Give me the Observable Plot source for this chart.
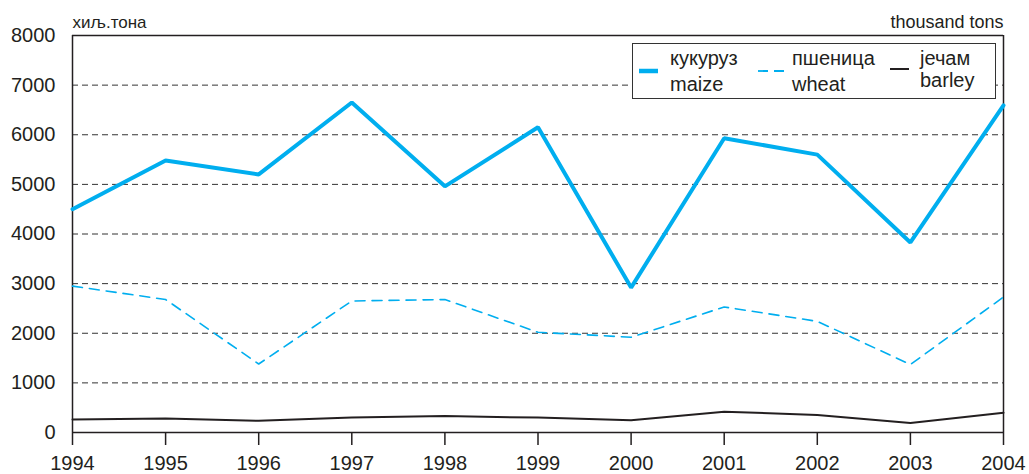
<!DOCTYPE html>
<html>
<head>
<meta charset="utf-8">
<script src="https://cdn.jsdelivr.net/npm/d3@7"></script>
<script src="https://cdn.jsdelivr.net/npm/@observablehq/plot@0.6"></script>
<style>
  body { margin: 0; background: #fff; font-family: "Liberation Sans", Arial, Helvetica, sans-serif; }
  #wrap { position: relative; width: 1029px; height: 474px; }
  #legend { position: absolute; left: 632px; top: 43px; width: 362px; height: 54px;
            border: 1.5px solid #333; background: #fff; color: #231f20; font-size: 20px; }
  .lbl { position: absolute; white-space: nowrap; line-height: 1; }
  .sw { position: absolute; }
</style>
</head>
<body>
<div id="wrap"></div>
<script>
const years = [1994, 1995, 1996, 1997, 1998, 1999, 2000, 2001, 2002, 2003, 2004];
const maize  = [4500, 5480, 5200, 6650, 4960, 6150, 2920, 5930, 5600, 3830, 6590];
const wheat  = [2950, 2680, 1380, 2650, 2680, 2020, 1920, 2530, 2240, 1370, 2730];
const barley = [260, 280, 235, 300, 330, 300, 245, 420, 355, 190, 400];
const yTicks = [0, 1000, 2000, 3000, 4000, 5000, 6000, 7000, 8000];
const gridTicks = [1000, 2000, 3000, 4000, 5000, 6000, 7000];
const seriesNames = [
  {sr: "кукуруз", en: "maize"},
  {sr: "пшеница", en: "wheat"},
  {sr: "јечам", en: "barley"}
];
const unitLeft = "хиљ.тона";
const unitRight = "thousand tons";

const BLUE = "#00aeef";
const DARK = "#231f20";

const toRows = (vals) => years.map((y, i) => ({year: y, value: vals[i]}));

const chart = Plot.plot({
  width: 1029,
  height: 474,
  marginLeft: 72,
  marginRight: 26,
  marginTop: 35,
  marginBottom: 42,
  style: {fontFamily: "Liberation Sans, Arial, Helvetica, sans-serif", fontSize: "20px", color: DARK, background: "#fff", overflow: "visible"},
  x: {domain: [1994, 2004]},
  y: {domain: [0, 8000]},
  marks: [
    Plot.gridY(gridTicks, {stroke: "#333", strokeOpacity: 1, strokeWidth: 1, strokeDasharray: "6,4"}),
    Plot.ruleY([0, 8000], {stroke: DARK, strokeWidth: 1.5}),
    Plot.ruleX([1994, 2004], {stroke: DARK, strokeWidth: 1.5}),
    Plot.lineY(toRows(barley), {x: "year", y: "value", stroke: DARK, strokeWidth: 2}),
    Plot.lineY(toRows(wheat), {x: "year", y: "value", stroke: BLUE, strokeWidth: 1.6, strokeDasharray: "10,7"}),
    Plot.lineY(toRows(maize), {x: "year", y: "value", stroke: BLUE, strokeWidth: 4, strokeLinejoin: "miter"}),
    Plot.axisX({ticks: years, tickFormat: d => String(d), tickSize: 13, tickPadding: 10, stroke: DARK, strokeWidth: 1.5, fontSize: 20, label: null}),
    Plot.axisY({ticks: yTicks, tickFormat: d => String(d), tickSize: 0, tickPadding: 17, fontSize: 20, label: null}),
    Plot.text([unitLeft], {frameAnchor: "top-left", textAnchor: "start", lineAnchor: "bottom", dy: -8, fontSize: 17, fill: DARK}),
    Plot.text([unitRight], {frameAnchor: "top-right", textAnchor: "end", lineAnchor: "bottom", dy: -8, fontSize: 18, fill: DARK})
  ]
});

const wrap = document.getElementById("wrap");
wrap.appendChild(chart);

// legend (HTML overlay)
const legend = document.createElement("div");
legend.id = "legend";
const layout = [
  {swX: 6, txtX: 37, sw: `<svg width="20" height="6"><line x1="0" x2="19" y1="3" y2="3" stroke="${BLUE}" stroke-width="4.5"/></svg>`},
  {swX: 125, txtX: 159, sw: `<svg width="32" height="6"><line x1="0" x2="31" y1="3" y2="3" stroke="${BLUE}" stroke-width="1.8" stroke-dasharray="10,6"/></svg>`},
  {swX: 257, txtX: 287, sw: `<svg width="20" height="6"><line x1="0" x2="19" y1="3" y2="3" stroke="${DARK}" stroke-width="2"/></svg>`}
];
seriesNames.forEach((s, i) => {
  const L = layout[i];
  const sw = document.createElement("div");
  sw.className = "sw";
  sw.style.left = L.swX + "px";
  sw.style.top = (i === 2 ? 10 : 12) + "px";
  sw.innerHTML = L.sw;
  legend.appendChild(sw);
  const t1 = document.createElement("div");
  t1.className = "lbl";
  t1.style.left = L.txtX + "px";
  t1.style.top = "4px";
  t1.textContent = s.sr;
  legend.appendChild(t1);
  const t2 = document.createElement("div");
  t2.className = "lbl";
  t2.style.left = L.txtX + "px";
  t2.style.top = (i === 2 ? "26px" : "30px");
  t2.textContent = s.en;
  legend.appendChild(t2);
});
wrap.appendChild(legend);
</script>
</body>
</html>
